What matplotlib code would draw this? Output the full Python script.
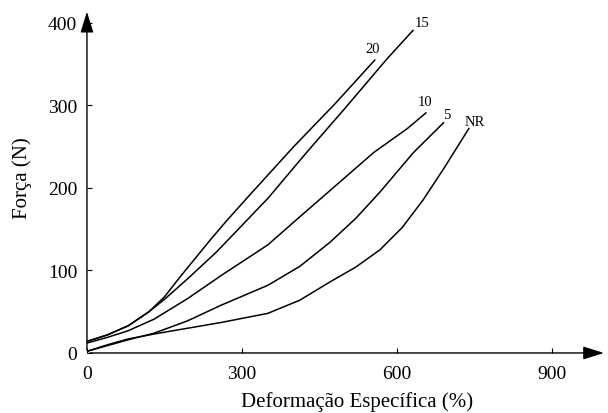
import matplotlib
matplotlib.use('Agg')
import matplotlib.pyplot as plt

plt.rcParams['font.family'] = ['Liberation Serif', 'DejaVu Serif']

# curvas força x deformação
x_20 = [0, 40, 80, 120, 150, 180, 210, 240, 270, 310, 400, 480, 557]
y_20 = [14, 22, 33, 50, 68, 92, 115, 138, 160, 188, 250, 302, 355]

x_15 = [0, 40, 80, 120, 150, 195, 250, 296, 351, 425, 500, 580, 631]
y_15 = [14, 22, 33, 50, 65, 90, 122, 152, 188, 243, 297, 356, 391]

x_10 = [0, 40, 80, 130, 195, 260, 350, 410, 478, 555, 620, 656]
y_10 = [12, 19, 27, 41, 66, 94, 131, 164, 201, 243, 272, 291]

x_5 = [0, 40, 80, 130, 195, 260, 350, 412, 470, 520, 567, 632, 690]
y_5 = [2, 9, 16, 24, 39, 58, 82, 105, 134, 163, 195, 243, 279]

x_nr = [0, 40, 80, 130, 195, 260, 350, 412, 470, 520, 567, 610, 650, 690, 739]
y_nr = [2, 10, 17, 23, 30, 37, 48, 64, 86, 104, 125, 152, 185, 223, 272]

rotulos = ['20', '15', '10', '5', 'NR']
xticks = [0, 300, 600, 900]
yticks = [0, 100, 200, 300, 400]

fig = plt.figure(figsize=(6.08, 4.14), dpi=100)
ax = fig.add_axes([0.143, 0.145, 0.855, 0.831])

curvas = [(x_20, y_20), (x_15, y_15), (x_10, y_10), (x_5, y_5), (x_nr, y_nr)]
offsets = [(-1.5, 8), (6.5, 6), (-1, 8), (2, 6), (4, 5)]
for (xs, ys), nome, off in zip(curvas, rotulos, offsets):
    ax.plot(xs, ys, color='black', lw=1.1, solid_joinstyle='round')
    ax.annotate(nome, xy=(xs[-1], ys[-1]), xytext=off, textcoords='offset points',
                ha='center', va='center', fontsize=10.5)

ax.set_xlim(0, 1006)
ax.set_ylim(0, 417)
ax.set_xticks(xticks)
ax.set_yticks(yticks)
ax.tick_params(direction='in', length=3.5, width=0.8, labelsize=14, colors='black')
ax.tick_params(axis='x', pad=9)
ax.tick_params(axis='y', pad=7)

for s in ['top', 'right', 'left', 'bottom']:
    ax.spines[s].set_visible(False)

# eixos com setas
seta = dict(arrowstyle='-|>,head_length=0.8,head_width=0.25',
            color='black', lw=1, mutation_scale=16)
ax.annotate('', xy=(1, 0), xytext=(0, 0), xycoords='axes fraction', arrowprops=seta)
ax.annotate('', xy=(0, 1), xytext=(0, 0), xycoords='axes fraction', arrowprops=seta)

ax.set_xlabel('Deformação Específica (%)', fontsize=15)
ax.set_ylabel('Força (N)', fontsize=15)
ax.xaxis.set_label_coords(0.519, -0.11)
ax.yaxis.set_label_coords(-0.106, 0.51)

fig.savefig('out.png', dpi=100)
